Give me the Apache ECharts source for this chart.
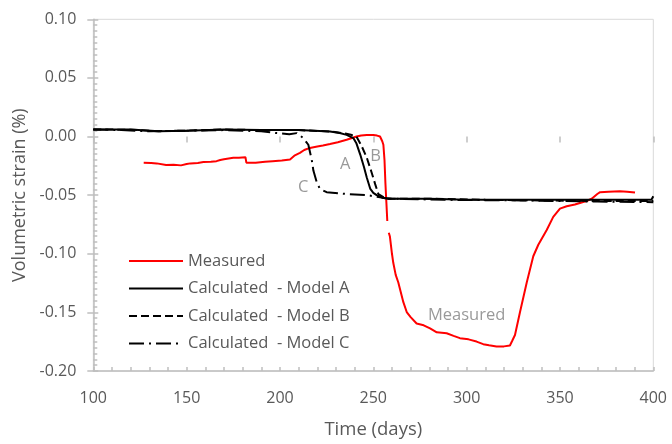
<!DOCTYPE html>
<html>
<head>
<meta charset="utf-8">
<script src="https://cdn.jsdelivr.net/npm/echarts@6/dist/echarts.min.js"></script>
<style>html,body{margin:0;padding:0;background:#fff}#c{width:672px;height:444px}</style>
</head>
<body>
<div id="c"></div>
<script>
// ---- data ----
var measured = [
[127,-0.0223],[131,-0.0225],[134,-0.0229],[139,-0.0243],[143,-0.0240],[147,-0.0246],[150,-0.0235],[152,-0.0229],
[156,-0.0225],[159,-0.0218],[163,-0.0215],[166,-0.021],[168,-0.020],[170,-0.0193],[175,-0.0181],[178,-0.018],
[181.5,-0.0176],[182,-0.0223],[187,-0.0223],[192,-0.0215],[196,-0.021],[201,-0.0205],[205.4,-0.0195],[208,-0.016],
[210.7,-0.0139],[213,-0.0115],[216,-0.0097],[220,-0.0085],[223,-0.0076],[226.8,-0.0064],[231,-0.0048],[235.7,-0.0028],
[239,-0.001],[241,0.0],[243.5,0.0009],[246.5,0.0014],[250,0.0013],[252,0.0008],[253.6,0.0],[254.8,-0.004],
[255.4,-0.007],[256,-0.02],[256.5,-0.04],[257,-0.056],[257.5,-0.072],null,[258.3,-0.082],[258.9,-0.0853],
[260,-0.1],[260.7,-0.1077],[262,-0.118],[263.4,-0.1245],[266.1,-0.1413],[267.9,-0.1497],[270,-0.154],
[273.2,-0.1595],[277,-0.161],[280.4,-0.1636],[284,-0.167],[289.3,-0.1678],[293,-0.170],[296.4,-0.172],
[301,-0.173],[305.3,-0.1749],[308.9,-0.1771],[312,-0.178],[316,-0.1791],[320,-0.179],[323.2,-0.1782],
[324.5,-0.174],[325.9,-0.1693],[328.6,-0.1497],[332.2,-0.1245],[335.7,-0.1021],[338.4,-0.0923],[342.9,-0.0797],
[346.4,-0.0685],[350,-0.0615],[353.6,-0.0595],[358,-0.058],[362,-0.056],[364.3,-0.055],[367,-0.053],
[367.9,-0.0517],[370,-0.049],[371.5,-0.0475],[376,-0.047],[382.1,-0.0467],[386,-0.047],[390.2,-0.0478]
];
var modelA = [
[100,0.006],[120,0.006],[135,0.0045],[150,0.005],[170,0.006],[190,0.0055],[210,0.0055],[226.8,0.0043],
[232,0.003],[235.7,0.0014],[239.3,-0.0013],[241,-0.006],[243,-0.0154],[245,-0.026],[246.5,-0.035],
[248.4,-0.0447],[250,-0.048],[251.8,-0.050],[255.4,-0.0525],[260,-0.053],[280,-0.053],[300,-0.054],
[330,-0.054],[360,-0.054],[380,-0.054],[399,-0.054],[400,-0.051]
];
var modelB = [
[100,0.006],[120,0.0058],[135,0.0045],[150,0.005],[170,0.006],[190,0.0055],[210,0.0055],[228,0.0042],
[235,0.0025],[238,0.0015],[241,0.0],[243.8,-0.0083],[246.5,-0.018],[249.1,-0.0307],[251,-0.0406],
[252.7,-0.049],[255.4,-0.0517],[258,-0.053],[280,-0.053],[310,-0.054],[340,-0.0545],[370,-0.055],[400,-0.055]
];
var modelC = [
[100,0.006],[115,0.0055],[130,0.0045],[150,0.005],[170,0.0055],[190,0.0045],[198,0.003],[205,0.002],
[209,0.0029],[212.5,-0.0013],[215.2,-0.007],[217,-0.0196],[217.9,-0.029],[219.7,-0.039],[221.4,-0.0447],
[225,-0.0475],[235.7,-0.049],[246.5,-0.050],[253.6,-0.0517],[258,-0.053],[290,-0.054],[330,-0.0545],
[370,-0.0555],[400,-0.056]
];
var annotations = [[235,-0.0238],[251.2,-0.0168],[212.5,-0.0437],[300,-0.1525]];
var annotationText = ['A','B','C','Measured'];
var seriesNames = ['Measured','Calculated  - Model A','Calculated  - Model B','Calculated  - Model C'];
var xTicks = {min:100, max:400, interval:50};
var yTicks = {min:-0.20, max:0.10, interval:0.05};

var FONT = 'Open Sans';
var TXT = '#595959';
var AX = '#bfbfbf';

var chart = echarts.init(document.getElementById('c'), null, {renderer:'canvas'});
function lineSeries(name, data, color, type){
  return {name:name, type:'line', data:data, showSymbol:false, symbol:'none', connectNulls:false,
    xAxisIndex:0, yAxisIndex:0, animation:false,
    lineStyle:{color:color, width:2, type:type}, itemStyle:{color:color}, z:(name==='Measured'?3:4)};
}
chart.setOption({
  animation:false,
  grid:{left:93.3, right:18.7, top:19.3, bottom:67.3, show:true, borderColor:'#d9d9d9', borderWidth:1},
  legend:{orient:'vertical', left:123, top:247.5, itemWidth:54, itemHeight:14, itemGap:10.5,
    data:seriesNames, itemStyle:{opacity:0},
    textStyle:{fontFamily:FONT, fontSize:16.5, color:TXT}, selectedMode:false},
  xAxis:[
    {type:'value', min:xTicks.min, max:xTicks.max, interval:xTicks.interval,
     name:'Time (days)', nameLocation:'middle', nameGap:49,
     nameTextStyle:{fontFamily:FONT, fontSize:18.5, color:TXT},
     axisLine:{show:true, onZero:false, lineStyle:{color:AX, width:1.5}},
     axisTick:{show:true, inside:true, length:4, lineStyle:{color:AX, width:1.5}},
     minorTick:{show:true, splitNumber:5, length:4, lineStyle:{color:AX, width:1.5}},
     axisLabel:{fontFamily:FONT, fontSize:16, color:TXT, margin:19},
     splitLine:{show:false}},
    {type:'value', min:xTicks.min, max:xTicks.max, interval:xTicks.interval, position:'bottom',
     axisLine:{show:false}, axisTick:{show:true, inside:false, length:6, lineStyle:{color:AX, width:1.5}},
     axisLabel:{show:false}, splitLine:{show:false}}
  ],
  yAxis:[
    {type:'value', min:yTicks.min, max:yTicks.max, interval:yTicks.interval,
     name:'Volumetric strain (%)', nameLocation:'middle', nameGap:63,
     nameTextStyle:{fontFamily:FONT, fontSize:18, color:TXT},
     axisLine:{show:true, onZero:false, lineStyle:{color:AX, width:1.5}},
     axisTick:{show:true, inside:true, length:5, lineStyle:{color:AX, width:1.5}},
     minorTick:{show:true, splitNumber:10, length:4, lineStyle:{color:AX, width:1.5}},
     axisLabel:{fontFamily:FONT, fontSize:16, color:TXT, margin:17,
       formatter:function(v){return v.toFixed(2);}},
     splitLine:{show:false}},
    {type:'value', min:yTicks.min, max:yTicks.max, interval:yTicks.interval, position:'left',
     axisLine:{show:false}, axisTick:{show:true, inside:false, length:6, lineStyle:{color:AX, width:1.5}},
     axisLabel:{show:false}, splitLine:{show:false}}
  ],
  series:[
    lineSeries(seriesNames[0], measured, '#ff0000', 'solid'),
    lineSeries(seriesNames[1], modelA, '#000000', 'solid'),
    lineSeries(seriesNames[2], modelB, '#000000', [8,4]),
    lineSeries(seriesNames[3], modelC, '#000000', [15,5,2,5]),
    {type:'scatter', name:'labels', data:annotations, symbolSize:0, xAxisIndex:0, yAxisIndex:0, silent:true,
     label:{show:true, position:'inside', formatter:function(p){return annotationText[p.dataIndex];},
       fontFamily:FONT, fontSize:16.5, color:'#7f7f7f'}}
  ]
});
</script>
</body>
</html>
